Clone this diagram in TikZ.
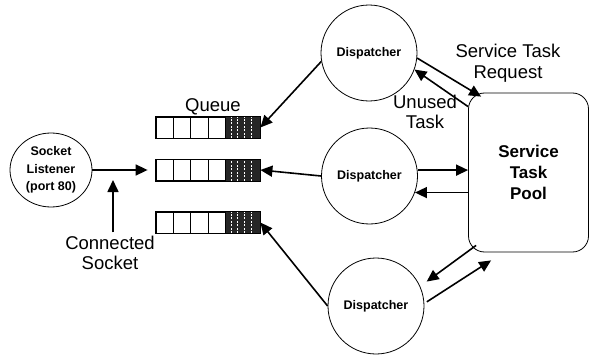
\documentclass[tikz,border=0pt]{standalone}
\usepackage{fontspec}
\setmainfont{Liberation Sans}
\usepackage{tikz}
\usetikzlibrary{positioning, calc, arrows.meta, shapes}
\tikzset{>={Triangle[length=12pt,width=11pt]}}

\begin{document}
\begin{tikzpicture}
    [x=1pt, y=-1pt,
      disp/.style={circle, draw, line width=0.8pt, minimum size=96pt, inner sep=0pt,
        font=\fontsize{12.5}{14}\selectfont\bfseries},
      queue/.style={draw, line width=0.8pt, minimum width=104pt, minimum height=21pt, inner sep=0pt},
      lbl/.style={align=center, font=\fontsize{18.5}{20.5}\selectfont},
      flow/.style={->, line width=1.6pt}]

    \useasboundingbox (0,0) rectangle (590,356);

    \node[ellipse, draw, line width=0.8pt, minimum width=82pt, minimum height=74pt, inner sep=0pt,
      align=center, font=\fontsize{12.5}{17.5}\selectfont\bfseries] (listener) at (51,170)
      {Socket\\Listener\\(port 80)};

    % queues
    \foreach \q/\qy in {q1/127.5, q2/170, q3/222.5}{
      \node[queue] (\q) at (208,\qy) {};
      \fill[black!85] ([xshift=70pt]\q.south west) rectangle (\q.north east);
      \foreach \j in {6,12,19,26}
        \draw[white, line width=0.5pt, dash pattern=on 2pt off 1.5pt]
          ([xshift=70pt+\j pt]\q.south west) -- ([xshift=70pt+\j pt]\q.north west);
      \foreach \i in {1,2,3,4}
        \draw[line width=0.8pt] ([xshift=\i*17.5pt]\q.south west) -- ([xshift=\i*17.5pt]\q.north west);
      \draw[line width=0.8pt] (\q.south west) rectangle (\q.north east);
    }

    \node[disp] (d1) at (369,53) {Dispatcher};
    \node[disp] (d2) at (369.5,176) {Dispatcher};
    \node[disp] (d3) at (376,306) {Dispatcher};

    \node[draw, rounded corners=16pt, line width=0.8pt, minimum width=120pt, minimum height=159pt,
      align=center, font=\fontsize{17}{21}\selectfont\bfseries] (pool) at (528.5,172.5)
      {Service\\Task\\Pool};

    \node[lbl] (queuelabel) at (213,107) {Queue};
    \node[lbl] (reqlabel) at (508,63) {Service Task\\Request};
    \node[lbl] (unusedlabel) at (425,112) {Unused\\Task};
    \node[lbl] (connlabel) at (110,253) {Connected\\Socket};

    % listener to queue
    \draw[flow, shorten >=8pt] (listener.east) -- (q2.west);
    \coordinate (sockettip) at (113,180);
    \draw[flow] (connlabel.north -| sockettip) -- (sockettip);

    % dispatchers to queues
    \draw[flow] (d1.190) -- (q1.east);
    \draw[flow] (d2.west) -- (q2.east);
    \draw[flow] (d3.west) -- (q3.east);

    % dispatchers and pool
    \draw[flow] (d1.-6) -- ([xshift=13pt,yshift=-4pt]pool.north west);
    \draw[flow] ([yshift=-14pt]pool.north west) -- (d1.-20);
    \draw[flow] (d2.7) -- (d2.7 -| pool.west);
    \draw[flow] (d2.-20 -| pool.west) -- (d2.-20);
    \draw[flow, shorten >=8pt] ([xshift=8pt,yshift=7pt]pool.south west) -- (d3.24);
    \draw[flow, shorten <=3pt] (d3.3) -- ([xshift=23pt,yshift=-8pt]pool.south west);
\end{tikzpicture}
\end{document}
